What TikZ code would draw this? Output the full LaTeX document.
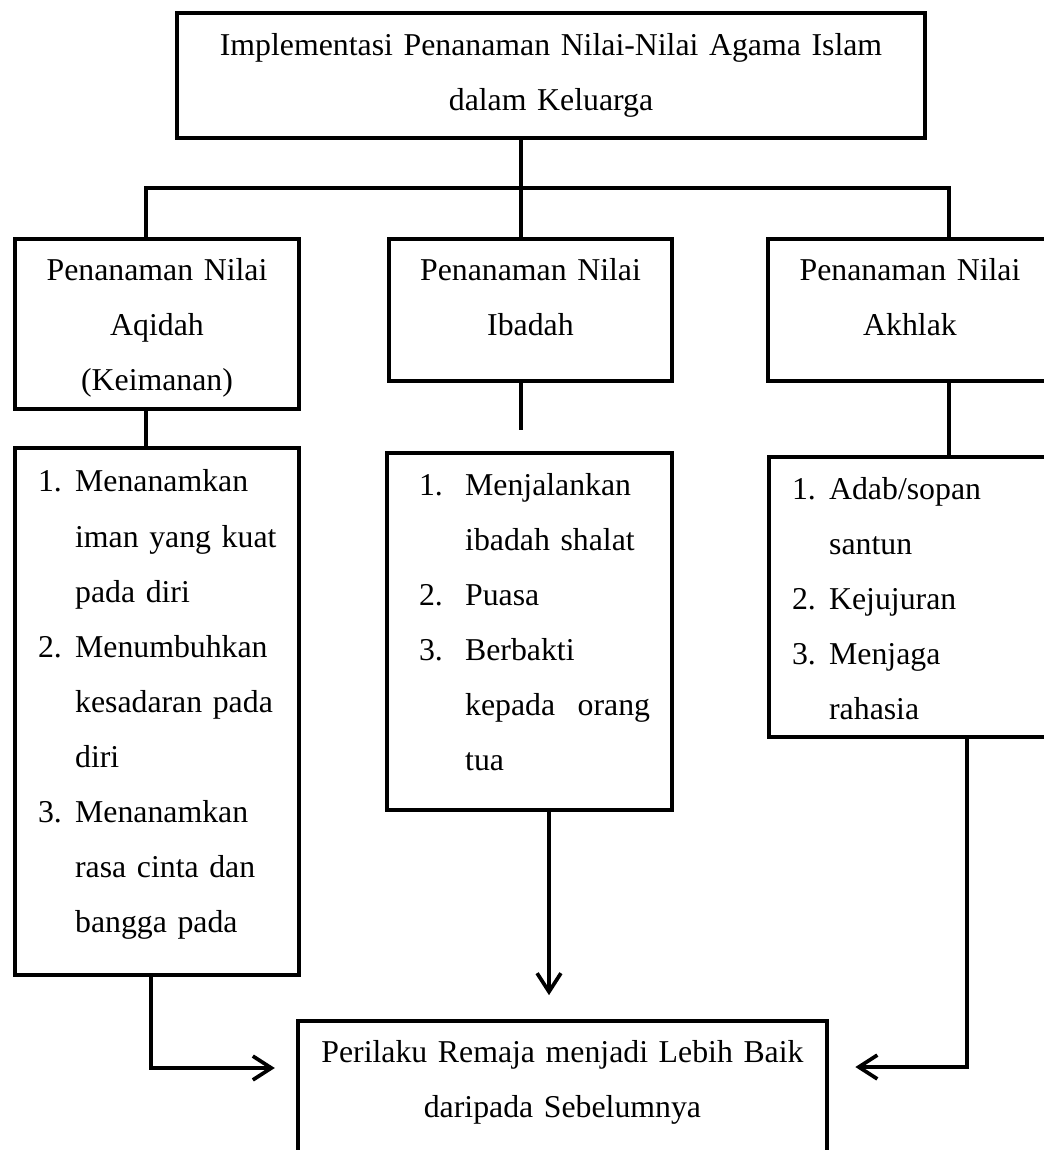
\documentclass[tikz,border=0pt]{standalone}
\usepackage{fontspec}
\setmainfont{Liberation Serif}
\usetikzlibrary{arrows.meta}

\begin{document}
\begin{tikzpicture}[x=0.3774pt, y=-0.3774pt,
		box/.style={draw, line width=1.5pt, anchor=north west, inner sep=0pt, align=center, font=\fontsize{12}{20.8}\selectfont},
		listbox/.style={box, align=left},
		conn/.style={line width=1.2pt},
		arr/.style={line width=1.4pt, -{Straight Barb[length=7pt, width=9pt]}}]
			\useasboundingbox (0,0) rectangle (1043,1150);
			% Judul
			\node[box, text width=282.3pt, text height=15.9pt, text depth=31.3pt] (goal) at (175,11) {Implementasi Penanaman Nilai-Nilai Agama Islam\\dalam Keluarga};
			% Nilai
			\node[box, text width=107.2pt, text height=15.5pt, text depth=48.7pt] (aqidah) at (13,237) {Penanaman Nilai\\Aqidah\\(Keimanan)};
			\node[box, text width=106.8pt, text height=15.5pt, text depth=38.1pt] (ibadah) at (387,237) {Penanaman Nilai\\Ibadah};
			\node[box, text width=107.2pt, text height=15.5pt, text depth=38.1pt] (akhlak) at (766,237) {Penanaman Nilai\\Akhlak};
			% Rincian
			\node[listbox, text width=107.2pt, text height=16.6pt, text depth=182.3pt] (aqidahlist) at (13,446) {%
				\begin{tabular}[t]{@{\hspace{8.7pt}}p{14pt}@{}l@{}}
					1. & Menanamkan\\
					   & iman yang kuat\\
					   & pada diri\\
					2. & Menumbuhkan\\
					   & kesadaran pada\\
					   & diri\\
					3. & Menanamkan\\
					   & rasa cinta dan\\
					   & bangga pada
				\end{tabular}};
			\node[listbox, text width=107.6pt, text height=15.9pt, text depth=118.9pt] (ibadahlist) at (385,451) {%
				\begin{tabular}[t]{@{\hspace{12.1pt}}p{17.4pt}@{}l@{}}
					1. & Menjalankan\\
					   & ibadah shalat\\
					2. & Puasa\\
					3. & Berbakti\\
					   & \makebox[69.8pt][s]{kepada\hfill orang}\\
					   & tua
				\end{tabular}};
			\node[listbox, text width=107.2pt, text height=15.9pt, text depth=89.8pt] (akhlaklist) at (767,455) {%
				\begin{tabular}[t]{@{\hspace{8.7pt}}p{14pt}@{}l@{}}
					1. & Adab/sopan\\
					   & santun\\
					2. & Kejujuran\\
					3. & Menjaga\\
					   & rahasia
				\end{tabular}};
			% Hasil
			\node[box, text width=199.6pt, text height=15.5pt, text depth=60pt] (result) at (296,1019) {Perilaku Remaja menjadi Lebih Baik\\daripada Sebelumnya};
			% Connections
			\coordinate (hub) at (521,188);
			\coordinate (barL) at (146,188);
			\coordinate (barR) at (949,188);
			\coordinate (ibadahend) at (521,430);
			\draw[conn] (goal.south -| hub) -- (hub);
			\draw[conn] (aqidah.north -| barL) -- (barL) -- (barR) -- (akhlak.north -| barR);
			\draw[conn] (hub) -- (ibadah.north -| hub);
			\draw[conn] (aqidah.south -| barL) -- (aqidahlist.north -| barL);
			\draw[conn] (ibadah.south -| hub) -- (ibadahend);
			\draw[conn] (akhlak.south -| barR) -- (akhlaklist.north -| barR);
			% Arrows
			\coordinate (dropL) at (151,1068);
			\coordinate (dropM) at (549,0);
			\coordinate (dropR) at (967,1067);
			\draw[arr, shorten >=8pt] (aqidahlist.south -| dropL) -- (dropL) -- (result.west |- dropL);
			\draw[arr, shorten >=9pt] (ibadahlist.south -| dropM) -- (result.north -| dropM);
			\draw[arr, shorten >=10pt] (akhlaklist.south -| dropR) -- (dropR) -- (result.east |- dropR);
		\end{tikzpicture}
\end{document}
